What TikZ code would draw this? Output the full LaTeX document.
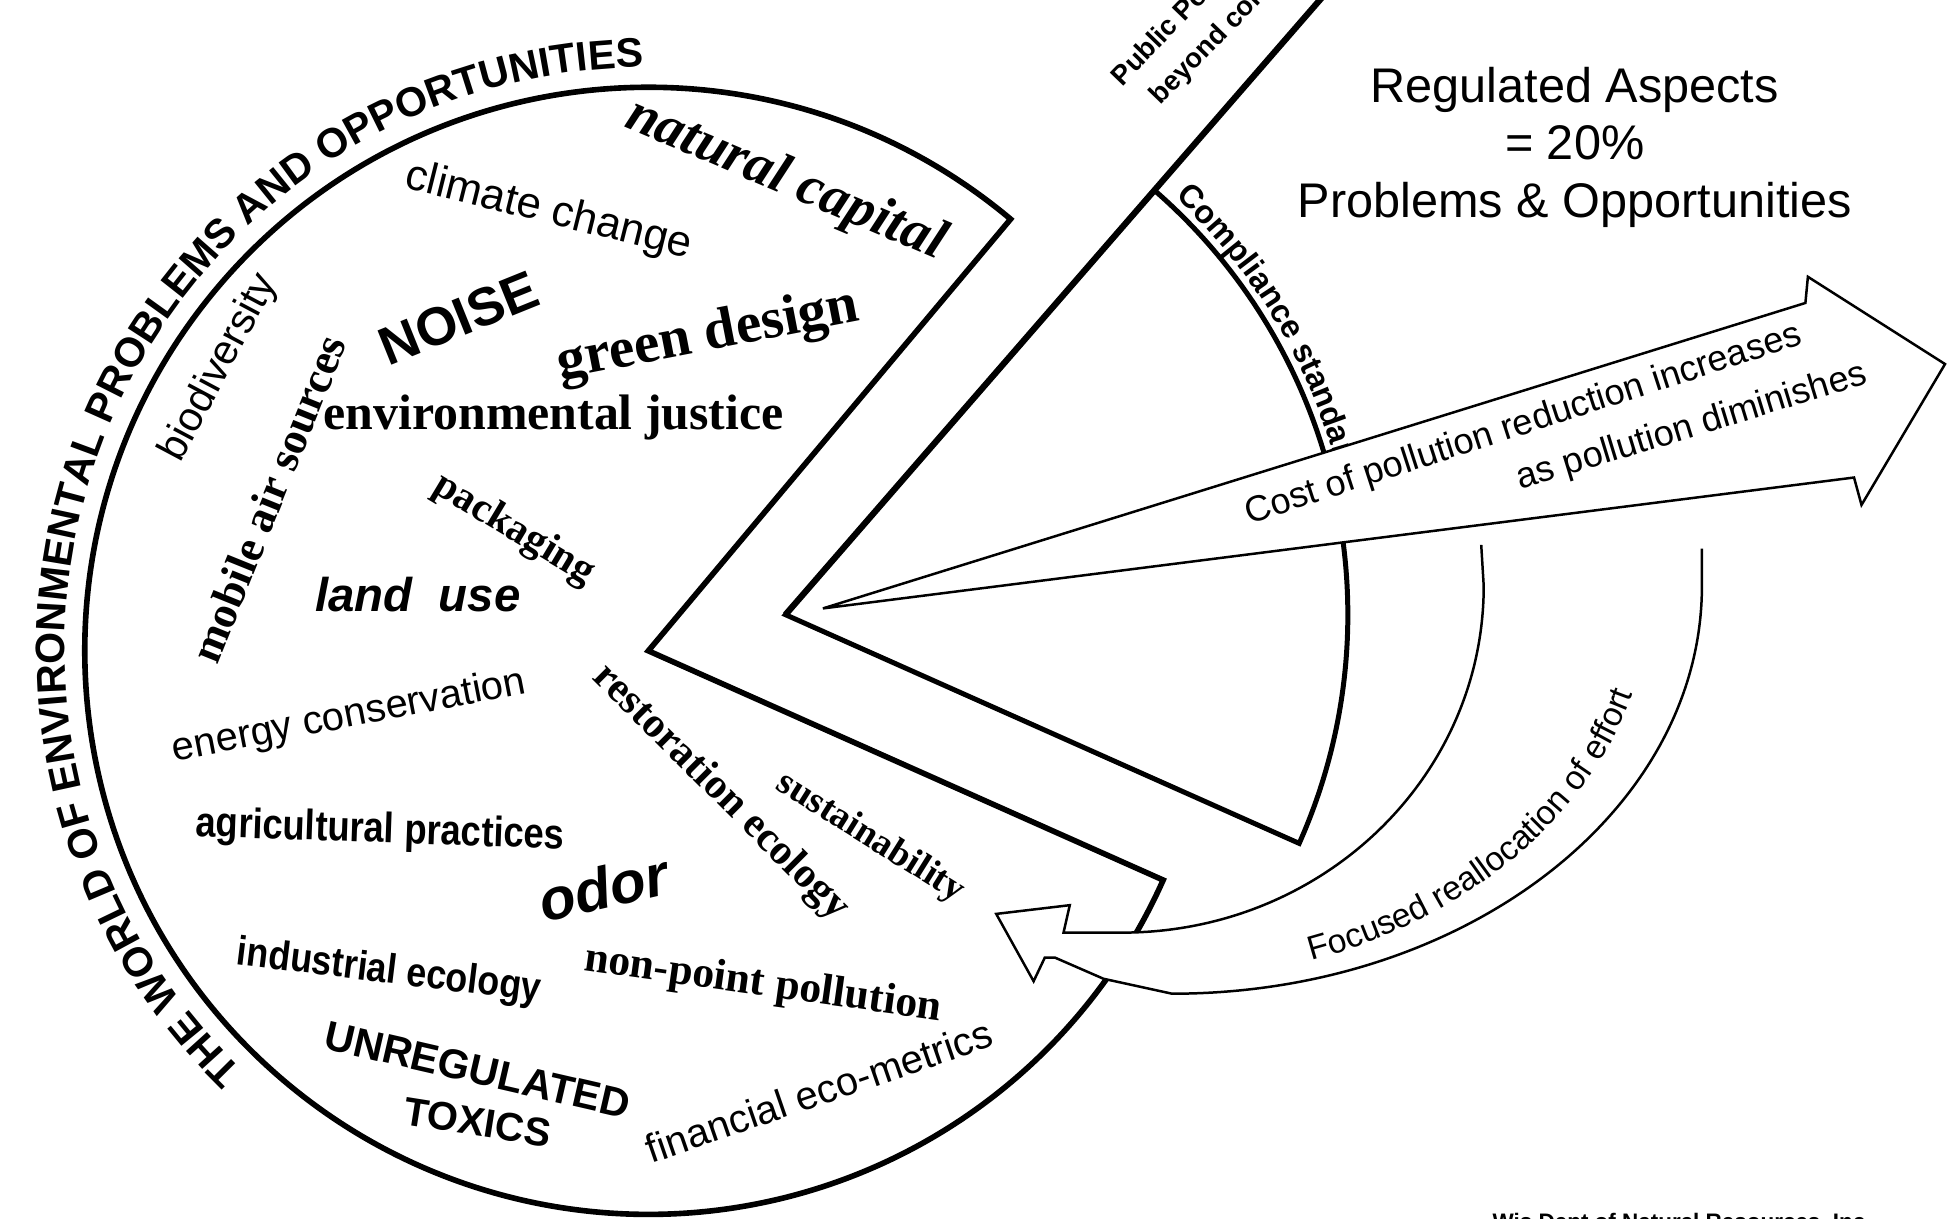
\documentclass[tikz,border=0pt]{standalone}
\usepackage{fontspec}
\usepackage{graphicx}
\setmainfont{Liberation Sans}
\newfontfamily\ls{Liberation Sans}
\newfontfamily\lsr{Liberation Serif}
\usetikzlibrary{decorations.text}
\newcommand\fsz[1]{\fontsize{#1}{#1}\selectfont}
\begin{document}
\begin{tikzpicture}[x=1pt,y=1pt,
  pieline/.style={line width=4.5pt, line join=miter},
  sliceline/.style={line width=4pt, line join=miter},
  arrowline/.style={line width=2pt, line join=miter},
  word/.style={inner sep=0pt, anchor=center},
]
\useasboundingbox (0,0) rectangle (1568,977);
\clip (0,0) rectangle (1568,977);
\coordinate (C1) at (520,455);
\coordinate (C2) at (630,484);

% pie with the cut-out sector
\draw[pieline] (C1) -- ++(50:452) arc[start angle=50, end angle=336, radius=452] -- cycle;

% displaced slice and the long line
\draw[sliceline] (C2) -- ++(49:451) arc[start angle=49, end angle=-24, radius=451] -- cycle;
\draw[line width=5pt] (C2) -- ++(49:700);

% title around the pie
\path[decorate, decoration={text along path, text align=left,
  text={|\ls\bfseries\fsz{33}|THE WORLD OF ENVIRONMENTAL PROBLEMS AND OPPORTUNITIES}}]
  (194.9,118.4) arc[start angle=226, end angle=80, radius=468];

% words inside the pie
\node[word, rotate=-23] (natcap) at (630,832) {\lsr\bfseries\itshape\fsz{45}natural capital};
\node[word, rotate=-14] (climate) at (440,807) {\ls\fsz{35}climate change};
\node[word, rotate=22] (noise) at (368,722) {\ls\bfseries\fsz{43}NOISE};
\node[word, rotate=11] (green) at (568,707) {\lsr\bfseries\fsz{46}green design};
\node[word] (envjust) at (444,642) {\lsr\bfseries\fsz{40}environmental justice};
\node[word, rotate=62] (biodiv) at (176,682) {\ls\fsz{33}biodiversity};
\node[word, rotate=68] (mobile) at (215,577) {\lsr\bfseries\fsz{36}mobile air sources};
\node[word, rotate=-31] (packaging) at (412,552) {\lsr\bfseries\fsz{33}packaging};
\node[word] (landuse) at (335,500) {\ls\bfseries\itshape\fsz{38}land\ \ use};
\node[word, rotate=11] (energy) at (280,402) {\ls\fsz{32}energy conservation};
\node[word, rotate=-2] (agri) at (305,310) {\scalebox{0.86}[1]{\ls\bfseries\fsz{34}agricultural practices}};
\node[word, rotate=13] (odor) at (484,265) {\ls\bfseries\itshape\fsz{47}odor};
\node[word, rotate=-7] (indeco) at (312,197) {\scalebox{0.87}[1]{\ls\bfseries\fsz{33}industrial ecology}};
\node[word, rotate=-8] (nonpoint) at (612,187) {\lsr\bfseries\fsz{35}non-point pollution};
\node[word, rotate=-13] (unreg) at (383,119) {\ls\bfseries\fsz{33}UNREGULATED};
\node[word, rotate=-9] (toxics) at (383,77) {\ls\bfseries\fsz{32}TOXICS};
\node[word, rotate=19] (financial) at (657,102) {\ls\fsz{32}financial eco-metrics};
\node[word, rotate=-45] (restor) at (578,341) {\lsr\bfseries\fsz{34}restoration ecology};
\node[word, rotate=-32] (sustain) at (698,305) {\lsr\bfseries\fsz{30}sustainability};

% texts at the slice
\path[decorate, decoration={text along path, text align=left,
  text={|\ls\bfseries\fsz{26}|Compliance standard}}]
  (942.4,819.0) arc[start angle=47, end angle=-5, radius=458];
\node[anchor=base west, rotate=46, inner sep=0pt] (pp1) at (900,907) {\ls\bfseries\fsz{22}Public Policy};
\node[anchor=base west, rotate=46, inner sep=0pt] (pp2) at (931,892) {\ls\bfseries\fsz{22}beyond compliance};

% heading
\node[word, align=center, font={\ls\fontsize{39}{46}\selectfont}] (heading) at (1263,859)
  {Regulated Aspects\\= 20\%\\Problems \& Opportunities};

% straight arrow
\draw[arrowline, fill=white] (660,489) -- (1448,734) -- (1450,755) -- (1560,685)
  -- (1493,572) -- (1487,594) -- cycle;
\node[word, rotate=18] (cost1) at (1222,636) {\ls\fsz{29}Cost of pollution reduction increases};
\node[word, rotate=17] (cost2) at (1357,634) {\ls\fsz{29}as pollution diminishes};

% curved arrow
\fill[white] (1188,540) -- (1190,507) arc[start angle=0, end angle=-90, x radius=290, y radius=278]
  -- (853,229) -- (858,251) -- (799,244) -- (829,190) -- (838,209) -- (846,209)
  -- (885,192) -- (940,180) arc[start angle=-90, end angle=0, x radius=425, y radius=327]
  -- (1365,537) -- cycle;
\draw[arrowline] (1188,540) -- (1190,507) arc[start angle=0, end angle=-90, x radius=290, y radius=278]
  -- (853,229) -- (858,251) -- (799,244) -- (829,190) -- (838,209) -- (846,209)
  -- (885,192) -- (940,180) arc[start angle=-90, end angle=0, x radius=425, y radius=327]
  -- (1365,537);
\path[decorate, decoration={text along path, text align=left,
  text={|\ls\fsz{27}|Focused reallocation of effort}}]
  (1051.9,206.3) arc[start angle=-71, end angle=-3, x radius=405, y radius=318];

% credit, cut by the lower edge
\node[anchor=north west, inner sep=0pt] (credit) at (1197,4) {\ls\bfseries\fsz{18}Wis Dept of Natural Resources, Inc.};
\end{tikzpicture}
\end{document}
